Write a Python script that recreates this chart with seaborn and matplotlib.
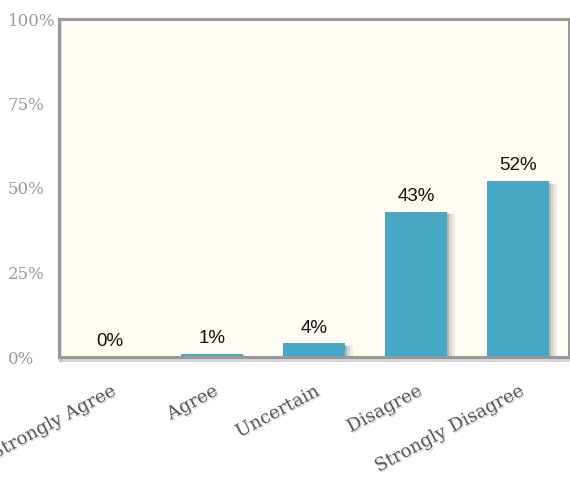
import matplotlib
matplotlib.use("Agg")
import matplotlib.pyplot as plt
import matplotlib.patheffects as pe
import seaborn as sns
import pandas as pd

categories = ["Strongly Agree", "Agree", "Uncertain", "Disagree", "Strongly Disagree"]
values = [0, 1, 4, 43, 52]
value_labels = ["0%", "1%", "4%", "43%", "52%"]
y_ticks = [0, 25, 50, 75, 100]
y_tick_labels = ["0%", "25%", "50%", "75%", "100%"]

df = pd.DataFrame({"category": categories, "value": values})

sns.set_style("white")
fig = plt.figure(figsize=(5.7, 4.82), dpi=100)
ax = fig.add_axes([59/570, 125/482, 510/570, 338/482])
ax.set_facecolor("#FFFCF4")

sns.barplot(data=df, x="category", y="value", color="#46A8C4", saturation=1,
            width=0.6, ax=ax, edgecolor="none")

for p in ax.patches:
    p.set_path_effects([
        pe.SimplePatchShadow(offset=(6, -2), shadow_rgbFace="#777777", alpha=0.12),
        pe.SimplePatchShadow(offset=(4, -2), shadow_rgbFace="#777777", alpha=0.18),
        pe.SimplePatchShadow(offset=(2, -1), shadow_rgbFace="#555555", alpha=0.25),
        pe.Normal()])

for i, (v, lab) in enumerate(zip(values, value_labels)):
    ax.annotate(lab, (i, v), xytext=(0, 5), textcoords="offset points",
                ha="center", va="bottom", fontsize=13.5, color="#111111",
                family="Liberation Sans")

ax.set_ylim(0, 100)
ax.set_xlim(-0.5, 4.5)
ax.set_yticks(y_ticks)
ax.set_yticklabels(y_tick_labels, family="DejaVu Serif", fontsize=12, color="#999999",
                   ha="left")
ax.set_xticks(range(len(categories)))
ax.set_xticklabels(categories, family="DejaVu Serif", fontsize=13, color="#5a5a5a",
                   rotation=28, ha="right", rotation_mode="anchor")
for t in ax.get_xticklabels():
    t.set_path_effects([pe.withSimplePatchShadow(offset=(1, -1), shadow_rgbFace="#999999", alpha=0.4)])
ax.tick_params(axis="x", length=0, pad=18)
ax.tick_params(axis="y", length=0, pad=37)
ax.set_xlabel("")
ax.set_ylabel("")

for s in ax.spines.values():
    s.set_color("#999999")
    s.set_linewidth(2.2)
    s.set_visible(True)
ax.spines["bottom"].set_path_effects([pe.SimpleLineShadow(offset=(1, -2), shadow_color="#999999", alpha=0.4), pe.Normal()])
ax.spines["left"].set_path_effects([pe.SimpleLineShadow(offset=(1, -2), shadow_color="#999999", alpha=0.3), pe.Normal()])

fig.savefig("out.png", dpi=100, facecolor="white")
